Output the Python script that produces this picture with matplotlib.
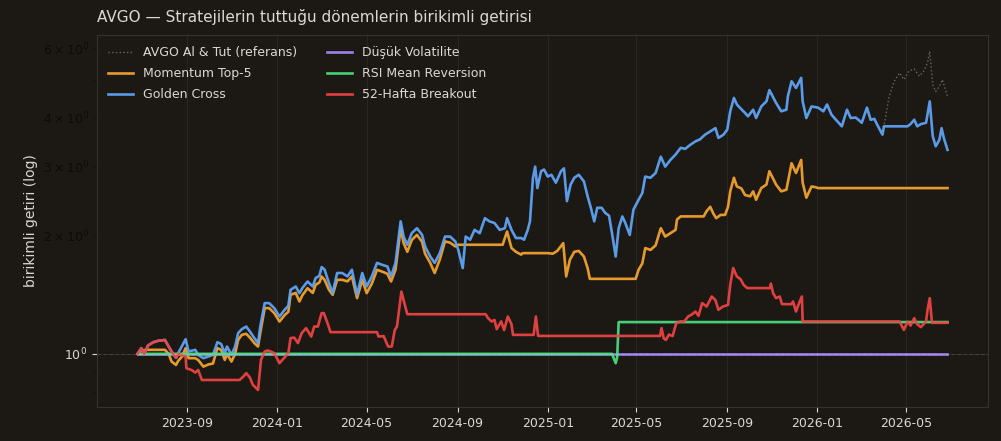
import matplotlib
matplotlib.use("Agg")
import matplotlib.pyplot as plt
import matplotlib.dates as mdates
import pandas as pd

# AVGO al & tut (referans) - kümülatif getiri
avgo_dates = [
    "2023-06-26", "2023-07-01", "2023-07-05", "2023-07-10", "2023-07-17", "2023-07-24",
    "2023-08-02", "2023-08-07", "2023-08-11", "2023-08-17", "2023-08-20", "2023-08-30",
    "2023-09-03", "2023-09-12", "2023-09-16", "2023-09-23", "2023-09-30", "2023-10-06",
    "2023-10-12", "2023-10-17", "2023-10-22", "2023-10-25", "2023-10-31", "2023-11-05",
    "2023-11-09", "2023-11-14", "2023-11-20", "2023-11-25", "2023-12-01", "2023-12-06",
    "2023-12-09", "2023-12-15", "2023-12-21", "2023-12-28", "2024-01-04", "2024-01-11",
    "2024-01-16", "2024-01-19", "2024-01-26", "2024-01-31", "2024-02-04", "2024-02-11",
    "2024-02-18", "2024-02-22", "2024-02-27", "2024-03-01", "2024-03-05", "2024-03-11",
    "2024-03-16", "2024-03-22", "2024-03-29", "2024-04-05", "2024-04-11", "2024-04-18",
    "2024-04-25", "2024-05-01", "2024-05-08", "2024-05-15", "2024-05-22", "2024-05-29",
    "2024-06-03", "2024-06-09", "2024-06-16", "2024-06-20", "2024-06-25", "2024-07-01",
    "2024-07-08", "2024-07-15", "2024-07-19", "2024-07-26", "2024-08-01", "2024-08-08",
    "2024-08-15", "2024-08-22", "2024-08-29", "2024-09-02", "2024-09-08", "2024-09-12",
    "2024-09-18", "2024-09-24", "2024-10-01", "2024-10-08", "2024-10-14", "2024-10-21",
    "2024-10-28", "2024-11-04", "2024-11-07", "2024-11-13", "2024-11-19", "2024-11-26",
    "2024-11-30", "2024-12-05", "2024-12-08", "2024-12-12", "2024-12-15", "2024-12-18",
    "2024-12-23", "2024-12-27", "2025-01-01", "2025-01-06", "2025-01-12", "2025-01-19",
    "2025-01-23", "2025-01-27", "2025-02-01", "2025-02-06", "2025-02-12", "2025-02-19",
    "2025-02-24", "2025-02-28", "2025-03-05", "2025-03-09", "2025-03-15", "2025-03-20",
    "2025-03-25", "2025-03-29", "2025-04-03", "2025-04-07", "2025-04-12", "2025-04-16",
    "2025-04-22", "2025-04-27", "2025-05-04", "2025-05-09", "2025-05-13", "2025-05-20",
    "2025-05-27", "2025-06-03", "2025-06-09", "2025-06-16", "2025-06-23", "2025-06-30",
    "2025-07-06", "2025-07-13", "2025-07-20", "2025-07-26", "2025-08-02", "2025-08-09",
    "2025-08-16", "2025-08-20", "2025-08-27", "2025-09-01", "2025-09-05", "2025-09-10",
    "2025-09-14", "2025-09-18", "2025-09-25", "2025-09-29", "2025-10-06", "2025-10-10",
    "2025-10-17", "2025-10-24", "2025-10-28", "2025-11-06", "2025-11-13", "2025-11-20",
    "2025-11-22", "2025-11-27", "2025-12-03", "2025-12-10", "2025-12-12", "2025-12-17",
    "2025-12-24", "2026-01-02", "2026-01-09", "2026-01-14", "2026-01-20", "2026-01-26",
    "2026-02-03", "2026-02-10", "2026-02-15", "2026-02-22", "2026-03-02", "2026-03-09",
    "2026-03-14", "2026-03-19", "2026-03-24", "2026-03-30", "2026-04-01",
    "2026-04-08", "2026-04-15", "2026-04-22", "2026-04-28", "2026-05-05", "2026-05-12",
    "2026-05-19", "2026-05-25", "2026-05-30", "2026-06-02", "2026-06-06", "2026-06-10",
    "2026-06-15", "2026-06-19", "2026-06-26",
]
avgo_vals = [
    1.00, 1.034, 1.00, 1.05, 1.07, 1.08,
    1.085, 1.044, 1.014, 0.977, 1.005, 1.09,
    1.014, 1.024, 0.994, 0.975, 0.985, 0.994,
    1.071, 1.06, 1.004, 1.044, 0.994, 1.044,
    1.129, 1.156, 1.174, 1.14, 1.097, 1.065,
    1.174, 1.347, 1.347, 1.308, 1.245, 1.295,
    1.326, 1.456, 1.485, 1.428, 1.471, 1.529,
    1.485, 1.561, 1.58, 1.664, 1.64, 1.515,
    1.428, 1.607, 1.607, 1.575, 1.638, 1.414,
    1.607, 1.485, 1.575, 1.705, 1.686, 1.67,
    1.575, 1.705, 2.176, 1.99, 1.897, 2.03,
    2.09, 2.01, 1.878, 1.771, 1.705, 1.806,
    1.99, 1.99, 1.934, 1.84, 1.654, 1.99,
    1.954, 2.07, 2.03, 2.217, 2.176, 2.155,
    2.07, 2.09, 2.217, 2.07, 1.973, 1.973,
    1.954, 2.07, 2.176, 2.806, 3.0, 2.645,
    2.92, 2.95, 2.83, 2.86, 2.73, 2.92,
    2.97, 2.45, 2.70, 2.81, 2.86, 2.75,
    2.52, 2.37, 2.176, 2.356, 2.356, 2.285,
    2.25, 2.03, 1.77, 2.09, 2.24, 2.155,
    2.01, 2.33, 2.47, 2.57, 2.83, 2.81,
    2.89, 3.18, 3.0, 3.12, 3.22, 3.35,
    3.33, 3.41, 3.48, 3.52, 3.62, 3.69,
    3.76, 3.55, 3.62, 3.73, 4.15, 4.49,
    4.32, 4.24, 4.11, 4.03, 4.19, 3.99,
    4.27, 4.40, 4.70, 4.36, 4.15, 4.19,
    4.53, 4.95, 4.76, 5.05, 4.40, 3.99,
    4.27, 4.24, 4.15, 4.32, 4.07, 3.95,
    3.80, 4.19, 3.99, 4.0, 3.88, 4.24,
    3.95, 3.97, 3.80, 3.62, 3.80,
    4.53, 4.95, 5.20, 5.0, 5.26, 5.32,
    5.10, 5.26, 5.52, 5.90, 4.86, 4.66,
    4.80, 5.0, 4.53,
]

# Golden Cross: 2026-04-01'e kadar AVGO ile aynı, sonra kendi yolu
gc_split = "2026-04-01"
gc_tail_dates = [
    "2026-05-03", "2026-05-07", "2026-05-12", "2026-05-16", "2026-05-21", "2026-05-28",
    "2026-06-02", "2026-06-06", "2026-06-10", "2026-06-15", "2026-06-18", "2026-06-21",
    "2026-06-26",
]
gc_tail_vals = [3.80, 3.85, 3.95, 3.80, 3.85, 3.88, 4.40, 3.59, 3.38, 3.51, 3.76, 3.55, 3.31]

mom_dates = [
    "2023-06-26", "2023-07-01", "2023-07-08", "2023-08-02", "2023-08-07", "2023-08-11",
    "2023-08-17", "2023-08-20", "2023-08-25", "2023-08-30", "2023-09-03", "2023-09-12",
    "2023-09-16", "2023-09-23", "2023-09-30", "2023-10-06", "2023-10-12", "2023-10-17",
    "2023-10-22", "2023-10-25", "2023-10-31", "2023-11-05", "2023-11-09", "2023-11-14",
    "2023-11-20", "2023-11-25", "2023-12-01", "2023-12-06", "2023-12-09", "2023-12-15",
    "2023-12-21", "2023-12-28", "2024-01-04", "2024-01-11", "2024-01-16", "2024-01-19",
    "2024-01-26", "2024-01-31", "2024-02-04", "2024-02-11", "2024-02-18", "2024-02-22",
    "2024-02-27", "2024-03-01", "2024-03-05", "2024-03-11", "2024-03-16", "2024-03-22",
    "2024-03-29", "2024-04-05", "2024-04-11", "2024-04-18", "2024-04-25", "2024-05-01",
    "2024-05-08", "2024-05-15", "2024-05-22", "2024-05-29", "2024-06-03", "2024-06-09",
    "2024-06-16", "2024-06-20", "2024-06-25", "2024-07-01", "2024-07-08", "2024-07-15",
    "2024-07-19", "2024-07-26", "2024-08-01", "2024-08-08", "2024-08-15", "2024-08-22",
    "2024-08-29", "2024-09-02", "2024-11-01", "2024-11-07", "2024-11-13", "2024-11-19",
    "2024-11-26", "2024-11-28", "2025-01-01", "2025-01-08", "2025-01-14", "2025-01-22",
    "2025-01-26", "2025-01-31", "2025-02-06", "2025-02-12", "2025-02-19", "2025-02-24",
    "2025-02-27", "2025-04-30", "2025-05-04", "2025-05-09", "2025-05-13", "2025-05-20",
    "2025-05-27", "2025-06-03", "2025-06-09", "2025-06-16", "2025-06-23", "2025-06-25",
    "2025-06-30", "2025-07-31", "2025-08-04", "2025-08-09", "2025-08-13", "2025-08-17",
    "2025-08-23", "2025-08-29", "2025-09-02", "2025-09-05", "2025-09-10", "2025-09-14",
    "2025-09-20", "2025-09-25", "2025-10-02", "2025-10-06", "2025-10-10", "2025-10-17",
    "2025-10-24", "2025-10-28", "2025-11-06", "2025-11-13", "2025-11-20", "2025-11-27",
    "2025-12-03", "2025-12-10", "2025-12-12", "2025-12-17", "2025-12-24", "2025-12-29",
    "2026-01-02", "2026-06-26",
]
mom_vals = [
    1.00, 1.02, 1.024, 1.024, 1.00, 0.956,
    0.937, 0.96, 0.984, 1.034, 0.975, 0.975,
    0.965, 0.928, 0.94, 0.945, 1.034, 1.024,
    0.965, 1.00, 0.956, 1.00, 1.085, 1.118,
    1.125, 1.10, 1.065, 1.044, 1.13, 1.308,
    1.308, 1.27, 1.209, 1.255, 1.28, 1.414,
    1.43, 1.36, 1.41, 1.47, 1.43, 1.50,
    1.52, 1.575, 1.544, 1.456, 1.414, 1.544,
    1.544, 1.53, 1.575, 1.387, 1.544, 1.428,
    1.51, 1.638, 1.62, 1.60, 1.529, 1.638,
    2.09, 1.915, 1.82, 1.95, 2.01, 1.93,
    1.80, 1.705, 1.607, 1.74, 1.934, 1.92,
    1.878, 1.897, 1.897, 2.05, 1.86, 1.82,
    1.79, 1.806, 1.806, 1.80, 1.83, 1.915,
    1.575, 1.737, 1.82, 1.83, 1.77, 1.654,
    1.553, 1.553, 1.638, 1.70, 1.86, 1.84,
    1.89, 2.09, 1.99, 2.03, 2.07, 2.20,
    2.24, 2.24, 2.31, 2.37, 2.28, 2.217,
    2.26, 2.26, 2.37, 2.595, 2.81, 2.67,
    2.64, 2.54, 2.52, 2.595, 2.47, 2.645,
    2.70, 2.92, 2.70, 2.595, 2.62, 3.06,
    2.89, 3.12, 2.73, 2.50, 2.67, 2.66,
    2.645, 2.645,
]

lowvol_dates = ["2023-06-26", "2026-06-26"]
lowvol_vals = [1.0, 1.0]

rsi_dates = ["2023-06-28", "2025-03-29", "2025-04-03", "2025-04-05", "2025-04-07", "2026-06-26"]
rsi_vals = [1.0, 1.0, 0.947, 0.98, 1.205, 1.205]

brk_dates = [
    "2023-06-26", "2023-07-01", "2023-07-05", "2023-07-10", "2023-07-17", "2023-07-24",
    "2023-08-02", "2023-08-07", "2023-08-11", "2023-08-17", "2023-08-20", "2023-08-30",
    "2023-08-31", "2023-09-07", "2023-09-12", "2023-09-16", "2023-09-21", "2023-11-11",
    "2023-11-16", "2023-11-20", "2023-11-25", "2023-11-29", "2023-12-06", "2023-12-10",
    "2023-12-15", "2023-12-19", "2023-12-23", "2023-12-28", "2024-01-04", "2024-01-11",
    "2024-01-16", "2024-01-19", "2024-01-24", "2024-01-29", "2024-02-03", "2024-02-09",
    "2024-02-16", "2024-02-20", "2024-02-25", "2024-03-01", "2024-03-04", "2024-03-09",
    "2024-03-13", "2024-05-15", "2024-05-17", "2024-05-24", "2024-05-30", "2024-06-04",
    "2024-06-08", "2024-06-11", "2024-06-17", "2024-06-21", "2024-06-25", "2024-10-09",
    "2024-10-12", "2024-10-17", "2024-10-21", "2024-10-24", "2024-10-30", "2024-11-03",
    "2024-11-08", "2024-11-13", "2024-11-15", "2024-12-13", "2024-12-16", "2024-12-19",
    "2025-06-02", "2025-06-04", "2025-06-07", "2025-06-10", "2025-06-14", "2025-06-19",
    "2025-06-24", "2025-06-30", "2025-07-04", "2025-07-10", "2025-07-15", "2025-07-20",
    "2025-07-24", "2025-07-29", "2025-08-04", "2025-08-11", "2025-08-16", "2025-08-20",
    "2025-08-26", "2025-09-02", "2025-09-05", "2025-09-09", "2025-09-14", "2025-09-19",
    "2025-09-23", "2025-09-28", "2025-10-29", "2025-10-30", "2025-11-02", "2025-11-06",
    "2025-11-11", "2025-11-14", "2025-11-27", "2025-11-29", "2025-12-03", "2025-12-08",
    "2025-12-11", "2025-12-12", "2026-04-22", "2026-04-24", "2026-04-28", "2026-05-03",
    "2026-05-07", "2026-05-12", "2026-05-16", "2026-05-21", "2026-05-28", "2026-05-30",
    "2026-06-02", "2026-06-05", "2026-06-26",
]
brk_vals = [
    1.00, 1.034, 1.00, 1.05, 1.07, 1.08,
    1.085, 1.044, 1.014, 0.977, 1.00, 0.984,
    0.919, 0.91, 0.896, 0.91, 0.858, 0.858,
    0.875, 0.893, 0.87, 0.834, 0.809, 0.965,
    1.014, 1.02, 1.014, 1.004, 0.947, 0.98,
    1.004, 1.097, 1.10, 1.065, 1.129, 1.163,
    1.107, 1.174, 1.174, 1.27, 1.27, 1.198,
    1.136, 1.136, 1.107, 1.11, 1.044, 1.044,
    1.15, 1.174, 1.441, 1.347, 1.262, 1.262,
    1.235, 1.209, 1.22, 1.156, 1.21, 1.15,
    1.245, 1.19, 1.118, 1.118, 1.245, 1.111,
    1.111, 1.163, 1.096, 1.085, 1.12, 1.11,
    1.198, 1.21, 1.205, 1.245, 1.26, 1.282,
    1.25, 1.347, 1.32, 1.40, 1.37, 1.295,
    1.32, 1.333, 1.50, 1.654, 1.575, 1.55,
    1.50, 1.471, 1.471, 1.51, 1.428, 1.387,
    1.40, 1.339, 1.339, 1.36, 1.282, 1.36,
    1.40, 1.209, 1.209, 1.19, 1.151, 1.209,
    1.18, 1.233, 1.19, 1.17, 1.209, 1.295,
    1.387, 1.20, 1.20,
]

BG = "#1c1915"
FG = "#ddd8cf"

# Golden Cross serisini AVGO başı + kuyruktan kur
avgo_idx = pd.to_datetime(avgo_dates)
avgo = pd.Series(avgo_vals, index=avgo_idx)
golden = pd.concat([
    avgo[avgo.index <= pd.Timestamp(gc_split)],
    pd.Series(gc_tail_vals, index=pd.to_datetime(gc_tail_dates)),
])

series = [
    ("AVGO Al & Tut (referans)", avgo.index, avgo.values, "#8a847c", ":"),
    ("Momentum Top-5", pd.to_datetime(mom_dates), mom_vals, "#f7a530", "-"),
    ("Golden Cross", golden.index, golden.values, "#5ea4f6", "-"),
    ("Düşük Volatilite", pd.to_datetime(lowvol_dates), lowvol_vals, "#a78bfa", "-"),
    ("RSI Mean Reversion", pd.to_datetime(rsi_dates), rsi_vals, "#4ade80", "-"),
    ("52-Hafta Breakout", pd.to_datetime(brk_dates), brk_vals, "#ef4444", "-"),
]

fig = plt.figure(figsize=(10.01, 4.41), dpi=100, facecolor=BG)
ax = fig.add_axes([0.097, 0.077, 0.89, 0.844], facecolor=BG)

for label, x, y, color, ls in series:
    if ls == ":":
        ax.plot(x, y, ls=ls, color=color, lw=1.0, alpha=0.7, label=label)
    else:
        ax.plot(x, y, ls=ls, color=color, lw=1.9, alpha=0.93, label=label)

ax.axhline(1.0, color="white", lw=0.8, ls="--", alpha=0.12)

ax.set_yscale("log")
ax.set_ylim(0.732, 6.5)
ax.xaxis.set_major_locator(mdates.MonthLocator(bymonth=[1, 5, 9]))
ax.xaxis.set_major_formatter(mdates.DateFormatter("%Y-%m"))

ax.grid(True, which="major", color="#2a2622", lw=0.7)
for s in ax.spines.values():
    s.set_color("#35312c")
ax.tick_params(which="major", colors=FG, labelsize=9)
# minor log etiketleri varsayılan siyah kalıyor (koyu zeminde neredeyse görünmez)
ax.tick_params(which="minor", colors="#0c0b0a", labelcolor="#0c0b0a", labelsize=9)

ax.set_title("AVGO — Stratejilerin tuttuğu dönemlerin birikimli getirisi",
             loc="left", color=FG, fontsize=11, pad=9)
ax.set_ylabel("birikimli getiri (log)", color=FG, fontsize=10)

ax.legend(loc="upper left", ncol=2, frameon=False, fontsize=9,
          labelcolor=FG, columnspacing=2.4, labelspacing=0.65)

fig.savefig("out.png", dpi=100, facecolor=BG)
